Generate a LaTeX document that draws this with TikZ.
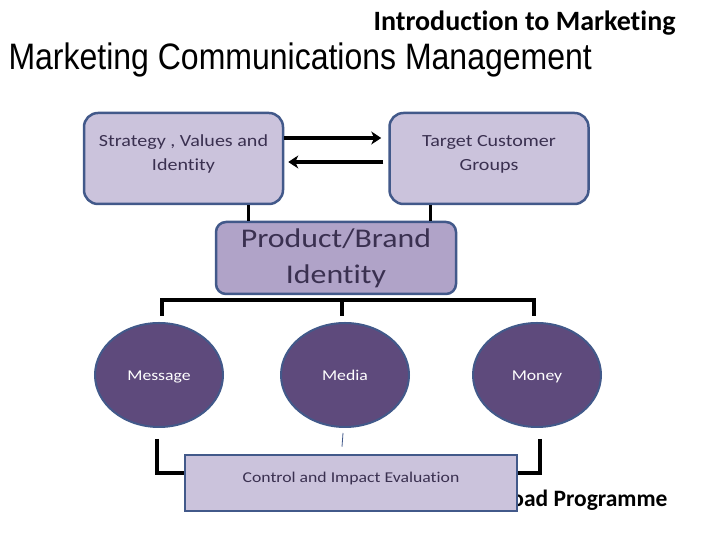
\documentclass[tikz,border=0pt]{standalone}
\usepackage{fontspec}
\setmainfont{Carlito}[Ligatures={NoCommon,NoContextual}]
\newfontfamily\widefont{Carlito}[FakeStretch=1.18, Ligatures={NoCommon,NoContextual}]
\newfontfamily\arialfont{Liberation Sans}
\usepackage{xcolor}
\usetikzlibrary{arrows.meta,shapes.geometric}
\definecolor{paleviolet}{HTML}{CBC3DC}
\definecolor{brandviolet}{HTML}{B0A3C8}
\definecolor{deepviolet}{HTML}{5E4A7C}
\definecolor{edgeblue}{HTML}{42598A}
\definecolor{inktext}{HTML}{3A3050}
\tikzset{
  groupbox/.style={
    draw=edgeblue,
    fill=paleviolet,
    line width=2.5pt,
    rounded corners=14pt,
    align=center,
    text=inktext,
    inner sep=0pt,
    minimum width=199pt,
    minimum height=91pt,
    font=\widefont\fontsize{17}{24}\selectfont
  },
  brandbox/.style={
    draw=edgeblue,
    fill=brandviolet,
    line width=2.5pt,
    rounded corners=10pt,
    align=center,
    text=inktext,
    inner sep=0pt,
    minimum width=240pt,
    minimum height=72pt,
    font=\widefont\fontsize{27}{36}\selectfont
  },
  mixnode/.style={
    ellipse,
    draw=edgeblue,
    fill=deepviolet,
    line width=2pt,
    text=white,
    inner sep=0pt,
    text height=2.8ex,
    text depth=0.3ex,
    minimum width=128pt,
    minimum height=104pt,
    font=\widefont\fontsize{15}{18}\selectfont
  },
  evalbox/.style={
    draw=edgeblue,
    fill=paleviolet,
    line width=2.5pt,
    inner sep=0pt,
    minimum width=332pt,
    minimum height=56pt
  },
  linkline/.style={line width=3.5pt},
  flowarrow/.style={-{Stealth[length=10pt,width=13pt,inset=3pt]}, line width=3.8pt}
}
\begin{document}
\begin{tikzpicture}[x=1pt,y=1pt]
  \useasboundingbox[fill=white] (0,0) rectangle (720,540);

  \node[anchor=base east, font=\bfseries\fontsize{28}{32}\selectfont] (course) at (679,509) {Introduction to Marketing};
  \node[anchor=base west, font=\arialfont\fontsize{32}{36}\selectfont, yscale=1.15, transform shape] (title) at (5,470) {Marketing Communications Management};
  \node[anchor=base east, font=\bfseries\fontsize{23.5}{28}\selectfont] (programme) at (671,33) {oad Programme};

  \node[groupbox] (strategy) at (183.5,381.5) {Strategy , Values and\\Identity\\[-13pt]};
  \node[groupbox] (target) at (489,381.5) {Target Customer\\Groups\\[-13pt]};
  \node[brandbox] (brand) at (336,282) {Product/Brand\\Identity};

  \node[mixnode] (message) at (159,165) {Message};
  \node[mixnode] (media) at (345,165) {Media};
  \node[mixnode] (money) at (537,165) {Money};

  % links between the top boxes
  \draw[flowarrow] ([yshift=20.5]strategy.east) -- ([xshift=-7,yshift=20.5]target.west);
  \draw[flowarrow] ([xshift=-5,yshift=-3.5]target.west) -- ([xshift=4,yshift=-3.5]strategy.east);
  \draw[linkline] ([xshift=-36]strategy.south east) -- ([xshift=-36]strategy.south east |- brand.north);
  \draw[linkline] ([xshift=42]target.south west) -- ([xshift=42]target.south west |- brand.north);

  % bracket over the three circles
  \draw[linkline] ([xshift=3,yshift=6]message.north) |- (brand.south |- 0,240) -| ([xshift=-3,yshift=6]money.north);
  \draw[linkline] ([xshift=-3,yshift=6]media.north) -- ([xshift=-3]media.north |- 0,240);

  % evaluation box and its links
  \node[evalbox] (control) at (351,57) {};
  \node[text=inktext, font=\widefont\fontsize{15}{18}\selectfont] (controltext) at (351,61) {Control and Impact Evaluation};
  \draw[linkline] ([xshift=-2,yshift=-11]message.south) |- ([yshift=10]control.west);
  \draw[linkline] ([xshift=3,yshift=-11]money.south) |- ([yshift=10]control.east);
  \draw[edgeblue, line width=0.8pt] ([xshift=-2,yshift=-5]media.south) -- ([xshift=-9,yshift=7]control.north);
\end{tikzpicture}
\end{document}
